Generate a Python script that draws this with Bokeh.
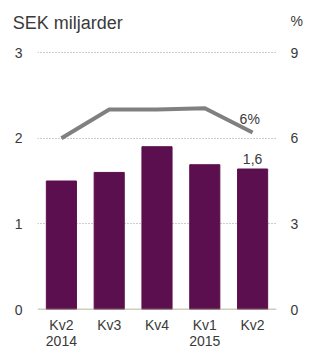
from bokeh.plotting import figure
from bokeh.models import (Range1d, LinearAxis, FixedTicker, Span, Label,
                          ColumnDataSource)
from bokeh.embed import file_html
from bokeh.resources import INLINE

# Data
categories = ["Kv2\n2014", "Kv3", "Kv4", "Kv1\n2015", "Kv2"]
revenue_sek_bn = [1.50, 1.60, 1.90, 1.69, 1.64]
margin_pct = [6.0, 7.0, 7.0, 7.05, 6.2]
left_ticks = [0, 1, 2, 3]
right_ticks = [0, 3, 6, 9]
bar_label = "1,6"
line_label = "6%"
left_title = "SEK miljarder"
right_title = "%"

FONT = "Liberation Sans"
TXT = "#3a3a3a"
BAR = "#5c0f4f"

xs = list(range(1, len(categories) + 1))
n = len(categories)

# layout geometry (pixels): plot top, and where the 0 and 3 lines sit
H, TOP, Y0, Y3 = 352, 20, 309, 52
y_end = 3 * (Y0 - TOP) / (Y0 - Y3)
pct_end = y_end * right_ticks[-1] / left_ticks[-1]
header_x = 1.133   # centre of the left header, in category units

p = figure(width=305, height=H, output_backend="svg", toolbar_location=None,
           x_range=Range1d(0.5, n + 0.5), y_range=Range1d(0, y_end),
           min_border_left=37, min_border_right=23, min_border_top=TOP,
           min_border_bottom=H - Y0)
p.outline_line_color = None
p.extra_y_ranges = {"pct": Range1d(0, pct_end)}

# axes
xa = p.xaxis[0]
xa.ticker = FixedTicker(ticks=xs)
xa.major_label_overrides = {x: c for x, c in zip(xs, categories)}
xa.major_label_standoff = 7
xa.major_label_text_line_height = 1.0
p.xgrid.visible = False
ya = p.yaxis[0]
ya.ticker = FixedTicker(ticks=left_ticks)
ra = LinearAxis(y_range_name="pct",
                ticker=FixedTicker(ticks=right_ticks + [pct_end]))
ra.major_label_overrides = {pct_end: right_title}
p.add_layout(ra, "right")
ta = LinearAxis(ticker=FixedTicker(ticks=[header_x]))
ta.major_label_overrides = {header_x: left_title}
p.add_layout(ta, "above")
for ax in (xa, ya, ra, ta):
    ax.axis_line_color = None
    ax.major_tick_line_color = None
    ax.minor_tick_line_color = None
    ax.major_tick_in = 0
    ax.major_tick_out = 0
    ax.major_label_text_font = FONT
    ax.major_label_text_font_size = "14px"
    ax.major_label_text_color = TXT
ya.major_label_standoff = 15
ra.major_label_standoff = 14
ta.major_label_text_font_size = "18px"
ta.major_label_standoff = -12

p.ygrid.ticker = FixedTicker(ticks=left_ticks[1:])
p.ygrid.grid_line_color = "#9a9a9a"
p.ygrid.grid_line_dash = "1 2"
p.ygrid.grid_line_width = 1

# bars
src = ColumnDataSource(dict(x=xs, top=revenue_sek_bn, pct=margin_pct))
p.vbar(x="x", top="top", width=0.63, source=src, fill_color=BAR, line_color=BAR)
p.add_layout(Span(location=0, dimension="width", line_color="#a09d7c", line_width=1.5))

# line
p.line(x="x", y="pct", source=src, y_range_name="pct", line_color="#808080",
       line_width=4, line_join="miter")

# value labels
p.add_layout(Label(x=xs[-1], y=revenue_sek_bn[-1] + 0.12, text=bar_label,
                   text_align="center", text_baseline="alphabetic",
                   text_font=FONT, text_font_size="14px", text_color=TXT))
p.add_layout(Label(x=xs[-1] - 0.06, y=margin_pct[-1] + 0.46, y_range_name="pct",
                   text=line_label, text_align="center",
                   text_baseline="alphabetic", text_font=FONT,
                   text_font_size="14px", text_color=TXT))

open("out.html", "w").write(file_html(p, INLINE))
